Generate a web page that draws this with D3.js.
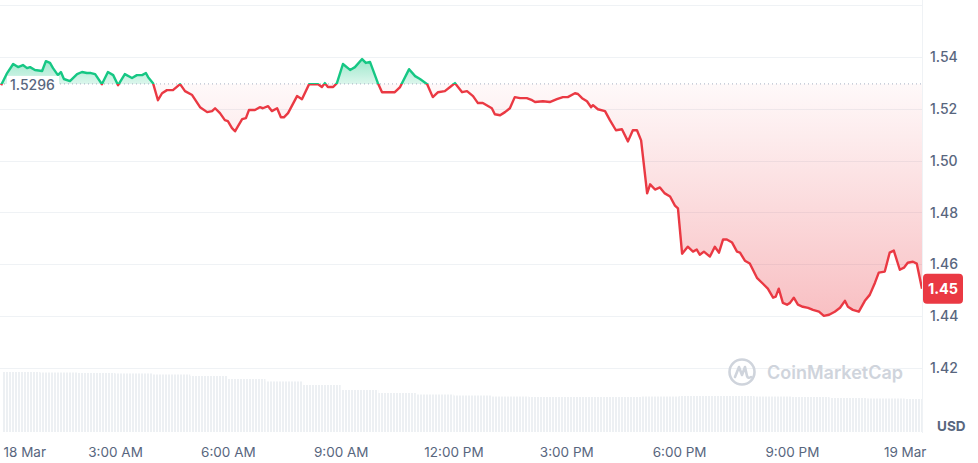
<!DOCTYPE html>
<html>
<head>
<meta charset="utf-8">
<script src="https://cdn.jsdelivr.net/npm/d3@7"></script>
<style>
  html, body { margin: 0; padding: 0; background: #ffffff; }
  svg { display: block; font-family: Inter, "Noto Sans", sans-serif; }
</style>
</head>
<body>
<svg id="chart" width="978" height="463"></svg>
<script>
// ---- data (hours since 18 Mar 00:00, price in USD) ----
const priceHours = [-0.03,0.13,0.29,0.42,0.55,0.66,0.74,0.87,1.06,1.16,1.27,1.35,1.48,1.56,1.64,1.80,1.99,2.12,2.25,2.36,2.47,2.65,2.81,2.95,3.08,3.26,3.45,3.58,3.72,3.82,3.88,4.01,4.14,4.25,4.38,4.54,4.73,4.86,5.05,5.26,5.45,5.58,5.66,5.79,5.92,6.00,6.11,6.19,6.27,6.38,6.48,6.56,6.72,6.85,6.93,7.07,7.17,7.31,7.41,7.49,7.60,7.84,7.97,8.16,8.40,8.50,8.58,8.66,8.80,8.90,9.06,9.25,9.38,9.57,9.67,9.78,9.99,10.10,10.44,10.58,10.82,10.98,11.11,11.30,11.45,11.59,11.77,11.91,12.04,12.23,12.36,12.52,12.65,12.78,13.02,13.10,13.24,13.37,13.50,13.63,13.77,13.95,14.09,14.17,14.38,14.56,14.75,14.91,15.04,15.23,15.31,15.42,15.55,15.66,15.71,15.84,16.03,16.16,16.32,16.48,16.64,16.77,16.88,16.99,17.15,17.23,17.36,17.49,17.62,17.76,17.89,17.97,18.08,18.23,18.37,18.47,18.55,18.66,18.82,18.95,19.06,19.17,19.27,19.41,19.54,19.62,19.75,19.88,20.07,20.23,20.36,20.50,20.57,20.65,20.76,20.87,20.95,21.05,21.16,21.29,21.43,21.56,21.72,21.85,21.99,22.14,22.28,22.41,22.49,22.62,22.78,22.94,23.07,23.21,23.31,23.47,23.60,23.71,23.87,23.98,24.08,24.22,24.32,24.46];
const prices = [1.5291,1.5338,1.5373,1.5361,1.5369,1.5357,1.5361,1.5350,1.5346,1.5384,1.5377,1.5357,1.5330,1.5342,1.5315,1.5307,1.5334,1.5342,1.5338,1.5338,1.5334,1.5295,1.5342,1.5330,1.5291,1.5334,1.5319,1.5330,1.5330,1.5338,1.5322,1.5299,1.5233,1.5260,1.5272,1.5272,1.5295,1.5268,1.5253,1.5206,1.5187,1.5191,1.5202,1.5183,1.5156,1.5152,1.5125,1.5113,1.5133,1.5160,1.5164,1.5195,1.5195,1.5206,1.5202,1.5210,1.5191,1.5202,1.5167,1.5167,1.5183,1.5249,1.5237,1.5295,1.5295,1.5284,1.5299,1.5284,1.5284,1.5299,1.5373,1.5350,1.5361,1.5392,1.5377,1.5381,1.5299,1.5264,1.5264,1.5284,1.5353,1.5326,1.5315,1.5295,1.5245,1.5264,1.5268,1.5284,1.5299,1.5264,1.5268,1.5249,1.5222,1.5222,1.5202,1.5179,1.5175,1.5187,1.5202,1.5245,1.5241,1.5241,1.5233,1.5226,1.5229,1.5226,1.5237,1.5245,1.5245,1.5260,1.5257,1.5241,1.5229,1.5206,1.5214,1.5198,1.5191,1.5156,1.5117,1.5121,1.5074,1.5117,1.5117,1.5078,1.4873,1.4908,1.4888,1.4896,1.4873,1.4861,1.4826,1.4815,1.4640,1.4667,1.4648,1.4656,1.4636,1.4648,1.4629,1.4667,1.4644,1.4695,1.4695,1.4683,1.4648,1.4644,1.4613,1.4602,1.4547,1.4524,1.4505,1.4470,1.4474,1.4505,1.4450,1.4443,1.4450,1.4470,1.4443,1.4435,1.4431,1.4423,1.4416,1.4400,1.4404,1.4416,1.4431,1.4458,1.4435,1.4423,1.4416,1.4458,1.4481,1.4528,1.4567,1.4571,1.4644,1.4652,1.4578,1.4586,1.4605,1.4609,1.4602,1.4505];
const openPrice = 1.5296;
const lastPriceLabel = "1.45";

// volume (hourly, M USD)
const volumeHours = [0,1,2,3,4,5,6,7,8,9,10,11,12,13,14,15,16,17,18,19,20,21,22,23,24];
const volumes = [9.52,9.44,9.37,9.29,9.13,8.89,8.41,8.02,7.46,6.67,6.19,5.95,5.79,5.63,5.56,5.56,5.56,5.63,5.71,5.71,5.63,5.56,5.40,5.32,5.24];

const yTicks = [1.42,1.44,1.46,1.48,1.50,1.52,1.54];
const yGridTicks = [1.42,1.44,1.46,1.48,1.50,1.52,1.54,1.56];
const xTickHours = [0,3,6,9,12,15,18,21,24];
const xTickLabels = ["18 Mar","3:00 AM","6:00 AM","9:00 AM","12:00 PM","3:00 PM","6:00 PM","9:00 PM","19 Mar"];

// ---- layout ----
const W = 978, H = 463;
const plotRight = 922;
const svg = d3.select("#chart");
const green = "#16c784", red = "#ea3943", textCol = "#58667e", gridCol = "#eff2f5";

const x = d3.scaleLinear().domain([-0.06, 24.46]).range([0, plotRight]);
const y = d3.scaleLinear().domain([1.42, 1.54]).range([367.6, 57]);
const vol = d3.scaleLinear().domain([0, 10]).range([432, 369]);
const baseY = y(openPrice);

const data = priceHours.map((h, i) => ({h, p: prices[i]}));

const defs = svg.append("defs");
defs.append("clipPath").attr("id", "clipAbove").append("rect")
  .attr("x", 0).attr("y", 0).attr("width", plotRight).attr("height", baseY);
defs.append("clipPath").attr("id", "clipBelow").append("rect")
  .attr("x", 0).attr("y", baseY).attr("width", plotRight).attr("height", H - baseY);

const gGreen = defs.append("linearGradient").attr("id", "gGreen")
  .attr("gradientUnits", "userSpaceOnUse").attr("x1", 0).attr("x2", 0).attr("y1", y(1.54)).attr("y2", baseY);
gGreen.append("stop").attr("offset", 0).attr("stop-color", green).attr("stop-opacity", 0.45);
gGreen.append("stop").attr("offset", 1).attr("stop-color", green).attr("stop-opacity", 0.15);

const gRed = defs.append("linearGradient").attr("id", "gRed")
  .attr("gradientUnits", "userSpaceOnUse").attr("x1", 0).attr("x2", 0).attr("y1", baseY).attr("y2", y(1.44));
gRed.append("stop").attr("offset", 0).attr("stop-color", red).attr("stop-opacity", 0.03);
gRed.append("stop").attr("offset", 1).attr("stop-color", red).attr("stop-opacity", 0.32);

const pat = defs.append("pattern").attr("id", "stripes")
  .attr("patternUnits", "userSpaceOnUse").attr("width", 3).attr("height", 10);
pat.append("rect").attr("x", 0).attr("y", 0).attr("width", 2).attr("height", 10).attr("fill", "#edf0f3");

// grid
svg.append("g").selectAll("line").data(yGridTicks).join("line")
  .attr("x1", 0).attr("x2", plotRight)
  .attr("y1", d => Math.round(y(d)) + 0.5).attr("y2", d => Math.round(y(d)) + 0.5)
  .attr("stroke", gridCol).attr("stroke-width", 1);
svg.append("line").attr("x1", plotRight + 0.5).attr("x2", plotRight + 0.5)
  .attr("y1", 0).attr("y2", 433).attr("stroke", gridCol);

// volume bars
svg.append("g").selectAll("rect").data(volumeHours).join("rect")
  .attr("x", (h) => x(h))
  .attr("width", (h, i) => Math.min(x(h + 1), plotRight) - x(h))
  .attr("y", (h, i) => vol(volumes[i]))
  .attr("height", (h, i) => vol(0) - vol(volumes[i]))
  .attr("fill", "url(#stripes)");

// watermark
const wm = svg.append("g").attr("transform", "translate(742,372)");
wm.append("circle").attr("r", 12.5).attr("fill", "none").attr("stroke", "#cfd4dc").attr("stroke-width", 2.6);
wm.append("path").attr("d", "M-7,5 L-3,-5 L0,3 L3,-5 L5,4 Q6,7 9,5")
  .attr("fill", "none").attr("stroke", "#cfd4dc").attr("stroke-width", 2.6)
  .attr("stroke-linejoin", "round").attr("stroke-linecap", "round");
svg.append("text").attr("x", 767).attr("y", 372).attr("dominant-baseline", "central")
  .attr("font-size", 18).attr("font-weight", 600).attr("fill", "#cfd4dc").text("CoinMarketCap");

// areas
const area = d3.area().x(d => x(d.h)).y0(baseY).y1(d => y(d.p));
svg.append("path").datum(data).attr("d", area).attr("fill", "url(#gGreen)").attr("clip-path", "url(#clipAbove)");
svg.append("path").datum(data).attr("d", area).attr("fill", "url(#gRed)").attr("clip-path", "url(#clipBelow)");

// baseline dotted
svg.append("line").attr("x1", 0).attr("x2", plotRight).attr("y1", baseY).attr("y2", baseY)
  .attr("stroke", "#a6b0c3").attr("stroke-width", 1).attr("stroke-dasharray", "1,3");

// lines
const line = d3.line().x(d => x(d.h)).y(d => y(d.p));
svg.append("path").datum(data).attr("d", line).attr("fill", "none").attr("stroke", green)
  .attr("stroke-width", 2.4).attr("stroke-linejoin", "round").attr("clip-path", "url(#clipAbove)");
svg.append("path").datum(data).attr("d", line).attr("fill", "none").attr("stroke", red)
  .attr("stroke-width", 2.4).attr("stroke-linejoin", "round").attr("clip-path", "url(#clipBelow)");

// open price label
svg.append("rect").attr("x", 7).attr("y", baseY - 8).attr("width", 52).attr("height", 17).attr("fill", "#ffffff");
svg.append("text").attr("x", 10).attr("y", baseY + 1).attr("dominant-baseline", "central")
  .attr("font-size", 14).attr("font-weight", 500).attr("fill", textCol).text(openPrice.toFixed(4));

// y axis labels
const yAxis = d3.axisRight(y).tickValues(yTicks).tickFormat(d3.format(".2f")).tickSize(0).tickPadding(0);
const ya = svg.append("g").attr("transform", `translate(930,0)`).call(yAxis);
ya.select(".domain").remove();
ya.selectAll("text").attr("font-size", 14).attr("font-weight", 500).attr("fill", textCol)
  .attr("font-family", "Inter, sans-serif").attr("dy", "0.35em").attr("x", 0);

// x axis labels
const xAxis = d3.axisBottom(x).tickValues(xTickHours).tickFormat((d, i) => xTickLabels[i]).tickSize(0).tickPadding(0);
const xa = svg.append("g").attr("transform", `translate(0,452)`).call(xAxis);
xa.select(".domain").remove();
xa.selectAll("text").attr("font-size", 13.5).attr("font-weight", 400).attr("fill", textCol)
  .attr("font-family", "Inter, sans-serif").attr("dy", "0.35em").attr("y", 0);
xa.selectAll("text").filter((d, i) => i === 0).attr("text-anchor", "start").attr("x", 3 - x(0));

// USD
svg.append("text").attr("x", 937).attr("y", 426).attr("dominant-baseline", "central")
  .attr("font-size", 13.5).attr("font-weight", 700).attr("fill", textCol).text("USD");

// last price tag
const lastY = y(prices[prices.length - 1]);
svg.append("rect").attr("x", 923).attr("y", lastY - 15).attr("width", 40).attr("height", 30)
  .attr("rx", 4).attr("fill", red);
svg.append("text").attr("x", 943).attr("y", lastY).attr("text-anchor", "middle").attr("dominant-baseline", "central")
  .attr("font-size", 14.5).attr("font-weight", 700).attr("fill", "#ffffff").text(lastPriceLabel);
</script>
</body>
</html>
